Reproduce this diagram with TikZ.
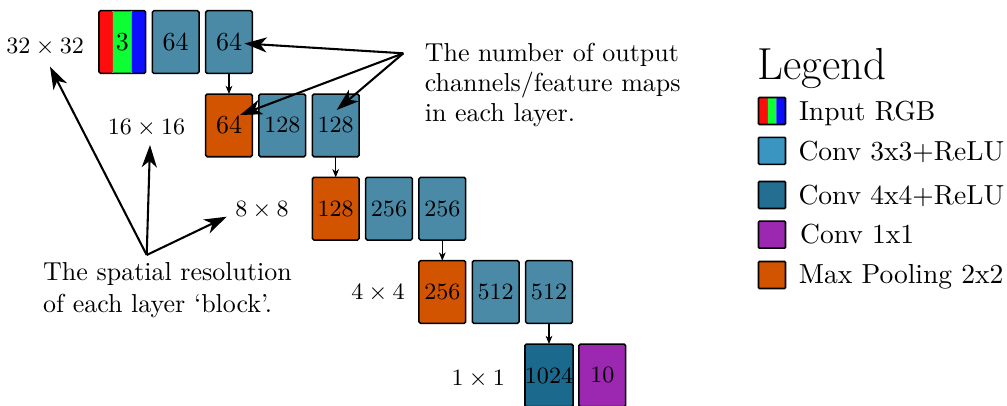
\documentclass[tikz,border=0pt]{standalone}
\usetikzlibrary{arrows.meta}

% layer colours
\definecolor{convthree}{HTML}{4A8AA7}
\definecolor{convthreeleg}{HTML}{3A95C0}
\definecolor{convfour}{HTML}{1B698D}
\definecolor{convfourleg}{HTML}{236E91}
\definecolor{convone}{HTML}{9C27B0}
\definecolor{poolcol}{HTML}{D35400}
\definecolor{chR}{HTML}{FF0D0D}
\definecolor{chG}{HTML}{0DFF33}
\definecolor{chB}{HTML}{0D0DFF}

\begin{document}
\begin{tikzpicture}[x=0.385pt, y=-0.385pt,
  layer/.style={draw=black, line width=0.6pt, rounded corners=0.6pt,
    minimum width=17.98pt, minimum height=24.14pt, inner sep=0pt,
    outer sep=0pt, font=\small},
  big/.style={font=\normalsize},
  cthree/.style={layer, fill=convthree},
  cfour/.style={layer, fill=convfour},
  cone/.style={layer, fill=convone},
  pool/.style={layer, fill=poolcol},
  rgbin/.style={layer, path picture={
    \fill[chR] (path picture bounding box.north west) rectangle
      ([xshift=5.3pt]path picture bounding box.south west);
    \fill[chG] ([xshift=5.3pt]path picture bounding box.north west) rectangle
      ([xshift=-5.4pt]path picture bounding box.south east);
    \fill[chB] ([xshift=-5.4pt]path picture bounding box.north east) rectangle
      (path picture bounding box.south east);}},
  reslabel/.style={font=\small, anchor=base, inner sep=0pt},
  flow/.style={line width=0.4pt, -{Stealth[length=3.2pt,width=2.6pt,inset=1pt]}},
  note/.style={line width=0.8pt, -{Stealth[length=8.6pt,width=5.8pt,inset=2.5pt]}},
  legsq/.style={draw=black, line width=0.6pt, rounded corners=0.4pt,
    minimum size=10.4pt, inner sep=0pt, outer sep=0pt},
  legrgb/.style={legsq, path picture={
    \fill[chR] (path picture bounding box.north west) rectangle
      ([xshift=3.6pt]path picture bounding box.south west);
    \fill[chG] ([xshift=3.6pt]path picture bounding box.north west) rectangle
      ([xshift=-3.5pt]path picture bounding box.south east);
    \fill[chB] ([xshift=-3.5pt]path picture bounding box.north east) rectangle
      (path picture bounding box.south east);}},
  legtext/.style={font=\fontsize{10.6}{12.7}\selectfont, anchor=base west, inner sep=0pt}
]
\useasboundingbox (0,0) rectangle (1007,405);

% 32x32 block
\node[rgbin, big] (b11) at (122.35,42.05) {3};
\node[cthree, big] (b12) at (175.7,42.05) {64};
\node[cthree, big] (b13) at (229.0,42.05) {64};
% 16x16 block
\node[pool, big] (b21) at (229.0,125.4) {64};
\node[cthree] (b22) at (282.3,125.4) {128};
\node[cthree] (b23) at (335.7,125.4) {128};
% 8x8 block
\node[pool] (b31) at (335.7,208.7) {128};
\node[cthree] (b32) at (389.0,208.7) {256};
\node[cthree] (b33) at (442.3,208.7) {256};
% 4x4 block
\node[pool] (b41) at (442.3,292.0) {256};
\node[cthree] (b42) at (495.7,292.0) {512};
\node[cthree] (b43) at (549.0,292.0) {512};
% 1x1 block
\node[cfour] (b51) at (549.0,375.4) {1024};
\node[cone] (b52) at (602.3,375.4) {10};

% flow between blocks
\draw[flow] (b13) -- (b21);
\draw[flow] (b23) -- (b31);
\draw[flow] (b33) -- (b41);
\draw[flow] (b43) -- (b51);

% spatial resolution labels
\node[reslabel] (r32) at (45.2,53.3) {$32\times32$};
\node[reslabel] (r16) at (146.5,134.0) {$16\times16$};
\node[reslabel] (r8) at (262.0,216.7) {$8\times8$};
\node[reslabel] (r4) at (378.0,299.3) {$4\times4$};
\node[reslabel] (r1) at (478.3,385.0) {$1\times1$};

% annotation: channel counts
\node[anchor=north west, align=left, inner sep=0pt,
  font=\fontsize{10}{11.5}\selectfont] (chantext) at (424.3,42.7)
  {The number of output\\channels/feature maps\\in each layer.};
\coordinate (chanorg) at (403.3,53.3);
\coordinate (tipA) at (244.5,43.5);
\coordinate (tipB) at (240.0,115.0);
\coordinate (tipC) at (336.7,110.0);
\draw[note] (chanorg) -- (tipA);
\draw[note] (chanorg) -- (tipB);
\draw[note] (chanorg) -- (tipC);

% annotation: spatial resolution
\node[anchor=north west, align=left, inner sep=0pt,
  font=\fontsize{10}{12.2}\selectfont] (restext) at (42.7,262.0)
  {The spatial resolution\\of each layer ‘block’.};
\coordinate (resorg) at (146.7,255.0);
\coordinate (tipD) at (50.0,66.7);
\coordinate (tipE) at (150.0,145.0);
\coordinate (tipF) at (226.7,216.7);
\draw[note] (resorg) -- (tipD);
\draw[note] (resorg) -- (tipE);
\draw[note] (resorg) -- (tipF);

% legend
\node[font=\fontsize{17.28}{21}\selectfont, anchor=base west, inner sep=0pt]
  (legtitle) at (757.0,79.3) {Legend};
\node[legrgb] (lg1) at (772.0,111.0) {};
\node[legsq, fill=convthreeleg] (lg2) at (772.0,150.8) {};
\node[legsq, fill=convfourleg] (lg3) at (772.0,195.0) {};
\node[legsq, fill=convone] (lg4) at (772.0,234.7) {};
\node[legsq, fill=poolcol] (lg5) at (772.0,275.0) {};
\node[legtext] (lt1) at (798.5,120.0) {Input RGB};
\node[legtext] (lt2) at (798.0,160.0) {Conv 3x3+ReLU};
\node[legtext] (lt3) at (798.0,204.0) {Conv 4x4+ReLU};
\node[legtext] (lt4) at (799.7,243.3) {Conv 1x1};
\node[legtext] (lt5) at (798.3,283.3) {Max Pooling 2x2};
\end{tikzpicture}
\end{document}
